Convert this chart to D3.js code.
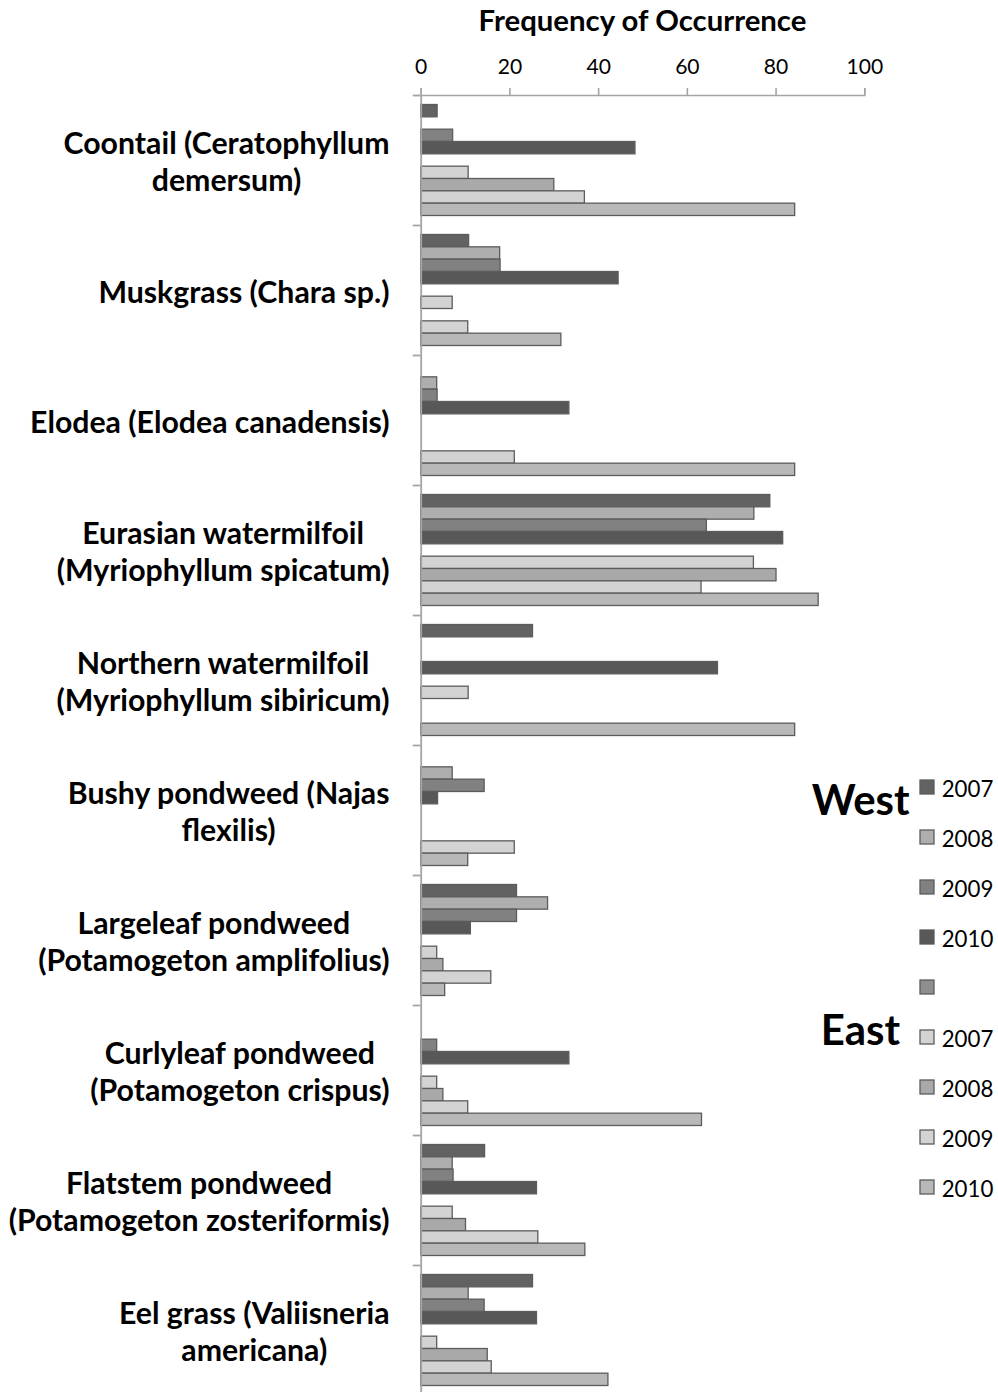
<!DOCTYPE html>
<html>
<head>
<meta charset="utf-8">
<script src="https://cdn.jsdelivr.net/npm/d3@7"></script>
<style>
  html, body { margin: 0; padding: 0; background: #ffffff; }
  svg { display: block; }
</style>
</head>
<body>
<svg id="chart" width="998" height="1392"></svg>
<script>
// ---------- data ----------
const categories = [
  "Coontail (Ceratophyllum demersum)",
  "Muskgrass (Chara sp.)",
  "Elodea (Elodea canadensis)",
  "Eurasian watermilfoil (Myriophyllum spicatum)",
  "Northern watermilfoil (Myriophyllum sibiricum)",
  "Bushy pondweed (Najas flexilis)",
  "Largeleaf pondweed (Potamogeton amplifolius)",
  "Curlyleaf pondweed (Potamogeton crispus)",
  "Flatstem pondweed (Potamogeton zosteriformis)",
  "Eel grass (Valiisneria americana)"
];
const categoryLines = [
  ["Coontail (Ceratophyllum", "demersum)"],
  ["Muskgrass (Chara sp.)"],
  ["Elodea (Elodea canadensis)"],
  ["Eurasian watermilfoil", "(Myriophyllum spicatum)"],
  ["Northern watermilfoil", "(Myriophyllum sibiricum)"],
  ["Bushy pondweed (Najas", "flexilis)"],
  ["Largeleaf pondweed", "(Potamogeton amplifolius)"],
  ["Curlyleaf pondweed", "(Potamogeton crispus)"],
  ["Flatstem pondweed", "(Potamogeton zosteriformis)"],
  ["Eel grass (Valiisneria", "americana)"]
];
const seriesLabels = ["2007", "2008", "2009", "2010", "", "2007", "2008", "2009", "2010"];
const west2007 = [3.7, 10.8, 0, 78.7, 25.2, 0, 21.6, 0, 14.4, 25.2];
const west2008 = [0, 17.8, 3.6, 75.1, 0, 7.1, 28.6, 0, 7.1, 10.7];
const west2009 = [7.2, 17.9, 3.7, 64.4, 0, 14.3, 21.6, 3.6, 7.3, 14.3];
const west2010 = [48.3, 44.5, 33.4, 81.6, 66.9, 3.8, 11.2, 33.4, 26.1, 26.1];
const spacer   = [0, 0, 0, 0, 0, 0, 0, 0, 0, 0];
const east2007 = [10.7, 7.1, 0, 75.0, 10.7, 0, 3.6, 3.6, 7.1, 3.6];
const east2008 = [30.0, 0, 0, 80.1, 0, 0, 5.0, 5.0, 10.1, 15.0];
const east2009 = [36.9, 10.6, 21.1, 63.2, 0, 21.1, 15.8, 10.6, 26.4, 15.9];
const east2010 = [84.3, 31.6, 84.3, 89.6, 84.3, 10.6, 5.4, 63.3, 37.0, 42.2];
const xTicks = [0, 20, 40, 60, 80, 100];
const groupTitles = ["West", "East"];
const axisTitle = "Frequency of Occurrence";

const seriesValues = [west2007, west2008, west2009, west2010, spacer, east2007, east2008, east2009, east2010];
const seriesColors = ["#626262", "#aeaeae", "#818181", "#585858", "#8e8e8e", "#d3d3d3", "#a9a9a9", "#d3d3d3", "#b8b8b8"];

// ---------- layout ----------
const FONT = "Lato, 'Open Sans', 'Liberation Sans', sans-serif";
const svg = d3.select("#chart");
const plotLeft = 420.7, plotRight = 864.3, plotTop = 95, plotBottom = 1395;

function fitSize(str, target, weight) {
  const t = svg.append("text").attr("font-family", FONT).attr("font-weight", weight)
    .attr("font-size", 100).text(str);
  const w = t.node().getComputedTextLength();
  t.remove();
  return 100 * target / w;
}
const labelSize = fitSize("(Potamogeton zosteriformis)", 381, "bold");
const titleSize = fitSize(axisTitle, 328, "bold");
const tickSize = fitSize("100", 36.7, "normal");
const legendSize = fitSize("2007", 51.7, "normal");
const groupSize = fitSize("West", 98, "bold");

const x = d3.scaleLinear().domain([0, 100]).range([plotLeft, plotRight]);
const y = d3.scaleBand().domain(categories).range([plotTop, plotBottom])
  .paddingInner(0.146).paddingOuter(0.073);
const ySlot = d3.scaleBand().domain(d3.range(seriesValues.length)).range([0, y.bandwidth()]);
const yBoundary = d3.scaleLinear().domain([0, categories.length]).range([plotTop, plotBottom]);

// title
svg.append("text")
  .attr("x", (plotLeft + plotRight) / 2).attr("y", 31)
  .attr("text-anchor", "middle")
  .attr("font-family", FONT).attr("font-weight", "bold").attr("font-size", titleSize)
  .attr("fill", "#000").text(axisTitle);

// bars
const barData = [];
categories.forEach((c, ci) => {
  seriesValues.forEach((vals, si) => {
    if (vals[ci] > 0) barData.push({ c, si, v: vals[ci] });
  });
});
svg.append("g").selectAll("rect").data(barData).join("rect")
  .attr("x", x(0))
  .attr("y", d => y(d.c) + ySlot(d.si))
  .attr("width", d => x(d.v) - x(0))
  .attr("height", ySlot.bandwidth())
  .attr("fill", d => seriesColors[d.si])
  .attr("stroke", "#5c5c5c")
  .attr("stroke-width", 1.3);

// x axis (top)
const xAxis = svg.append("g").attr("transform", `translate(0,${plotTop})`)
  .call(d3.axisTop(x).tickValues(xTicks).tickSize(7).tickSizeOuter(7).tickFormat(d3.format("d")));
xAxis.selectAll("path, line").attr("stroke", "#a4a4a4").attr("stroke-width", 1.6);
xAxis.selectAll("text").attr("y", -21).attr("dy", 0)
  .attr("font-family", FONT).attr("font-size", tickSize).attr("fill", "#000");

// y axis (category boundaries)
const yAxis = svg.append("g").attr("transform", `translate(${plotLeft},0)`)
  .call(d3.axisLeft(yBoundary).ticks(categories.length).tickSize(8).tickSizeOuter(0).tickFormat(""));
yAxis.selectAll("path, line").attr("stroke", "#a4a4a4").attr("stroke-width", 1.8);

// category labels
const labelRight = 389.5;
const lineGap = 36.7;
const labelG = svg.append("g").attr("font-family", FONT).attr("font-weight", "bold")
  .attr("font-size", labelSize).attr("fill", "#000").attr("text-anchor", "middle");
categories.forEach((c, ci) => {
  const lines = categoryLines[ci];
  const cy = y(c) + y.bandwidth() / 2;
  const t = labelG.append("text");
  lines.forEach((ln, li) => {
    t.append("tspan").text(ln)
      .attr("y", cy + 12.5 + (li - (lines.length - 1) / 2) * lineGap);
  });
  let maxW = 0;
  t.selectAll("tspan").each(function () { maxW = Math.max(maxW, this.getComputedTextLength()); });
  t.selectAll("tspan").attr("x", labelRight - maxW / 2);
});

// legend
const legendY = d3.scaleLinear().domain([0, seriesLabels.length - 1]).range([787, 1187]);
const legend = svg.append("g");
seriesLabels.forEach((lab, i) => {
  const cy = legendY(i);
  legend.append("rect").attr("x", 920).attr("y", cy - 7).attr("width", 14).attr("height", 14)
    .attr("fill", seriesColors[i]).attr("stroke", "#5c5c5c").attr("stroke-width", 1.3);
  legend.append("text").attr("x", 941.7).attr("y", cy + 9.5)
    .attr("font-family", FONT).attr("font-size", legendSize).attr("fill", "#000").text(lab);
});
svg.append("text").attr("x", 811.7).attr("y", 815)
  .attr("font-family", FONT).attr("font-weight", "bold").attr("font-size", groupSize)
  .attr("fill", "#000").text(groupTitles[0]);
svg.append("text").attr("x", 820.7).attr("y", 1045)
  .attr("font-family", FONT).attr("font-weight", "bold").attr("font-size", groupSize)
  .attr("fill", "#000").text(groupTitles[1]);
</script>
</body>
</html>
